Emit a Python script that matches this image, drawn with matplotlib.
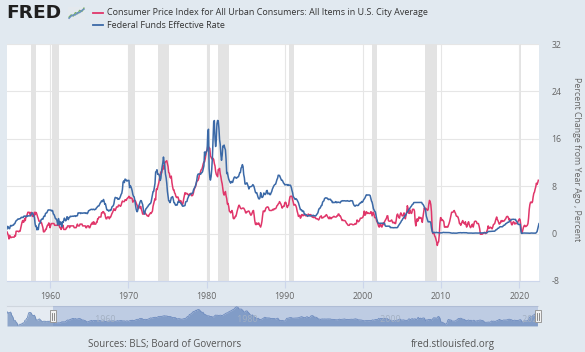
import matplotlib
matplotlib.use('Agg')
import matplotlib.pyplot as plt
import matplotlib.dates as mdates
from matplotlib.lines import Line2D
from matplotlib.patches import Rectangle
import numpy as np
import pandas as pd

# ---------------- data ----------------
cpi_label = 'Consumer Price Index for All Urban Consumers: All Items in U.S. City Average'
ff_label = 'Federal Funds Effective Rate'

cpi_start = '1948-01-01'
cpi_values = [
    10.2, 9.4, 8.2, 9.4, 9.3, 9.4, 9.8, 8.8, 6.5, 6.1, 4.8, 3.0,
    1.3, 1.3, 1.7, 0.4, -0.4, -0.8, -2.9, -2.9, -2.5, -2.9, -1.7, -2.1,
    -2.1, -1.3, -0.8, -1.3, -0.4, -0.4, 1.7, 2.1, 2.2, 3.8, 3.8, 5.9,
    8.1, 9.4, 9.3, 9.4, 9.3, 8.7, 7.4, 6.6, 6.6, 6.2, 6.8, 5.9,
    4.3, 2.3, 2.0, 2.4, 1.9, 2.3, 3.2, 3.1, 2.3, 1.9, 1.2, 0.8,
    0.4, 0.8, 1.1, 0.8, 1.1, 0.8, 0.4, 0.7, 0.7, 1.1, 0.7, 0.7,
    1.1, 0.7, 0.4, 0.7, 0.7, 0.4, 0.3, 0.0, -0.3, -0.9, -0.3, -0.6,
    -0.7, -0.6, -0.6, -0.6, -0.6, -0.6, -0.3, -0.4, 0.4, 0.4, 0.4, 0.4,
    0.3, 0.4, 0.4, 0.9, 1.3, 1.9, 2.2, 1.9, 2.0, 2.5, 2.2, 2.9,
    2.9, 3.3, 3.6, 3.6, 3.6, 3.3, 3.2, 3.6, 3.2, 2.9, 3.2, 2.9,
    3.6, 3.2, 3.6, 3.5, 3.2, 2.8, 2.5, 2.1, 2.1, 2.1, 1.8, 1.8,
    1.4, 1.0, 0.3, 0.3, 0.4, 0.7, 0.7, 1.1, 1.4, 1.4, 1.8, 1.7,
    1.0, 1.4, 1.7, 1.7, 1.7, 1.7, 1.7, 1.4, 1.4, 1.4, 1.4, 1.4,
    1.7, 1.4, 1.4, 1.0, 1.0, 0.7, 1.4, 1.0, 1.4, 0.7, 0.7, 0.7,
    0.7, 1.0, 1.0, 1.3, 1.3, 1.3, 1.0, 1.3, 1.3, 1.3, 1.3, 1.3,
    1.3, 1.0, 1.0, 1.0, 1.0, 1.3, 1.6, 1.3, 1.3, 1.3, 1.6, 1.6,
    1.6, 1.6, 1.3, 1.3, 1.3, 1.3, 1.3, 1.0, 1.0, 1.3, 1.3, 1.3,
    1.0, 1.0, 1.3, 1.6, 1.6, 1.9, 1.6, 2.0, 1.6, 1.6, 1.6, 1.9,
    1.9, 2.5, 2.5, 2.8, 2.8, 2.8, 2.8, 3.5, 3.5, 3.7, 3.7, 3.4,
    3.4, 2.8, 2.5, 2.5, 2.8, 2.8, 2.8, 2.5, 2.8, 2.8, 3.1, 3.4,
    3.6, 3.9, 4.2, 4.0, 3.9, 4.2, 4.5, 4.5, 4.5, 4.8, 4.8, 4.7,
    4.6, 4.8, 5.2, 5.5, 5.4, 5.4, 5.4, 5.7, 5.7, 5.6, 5.9, 6.0,
    6.1, 6.3, 6.0, 6.1, 6.0, 6.0, 5.9, 5.3, 5.6, 5.6, 5.6, 5.5,
    5.2, 4.9, 4.7, 4.2, 4.4, 4.6, 4.3, 4.6, 4.1, 3.8, 3.3, 3.3,
    3.3, 3.5, 3.5, 3.3, 3.2, 3.0, 3.0, 2.9, 3.2, 3.3, 3.5, 3.4,
    3.6, 3.8, 4.6, 5.1, 5.5, 5.9, 5.7, 7.5, 7.4, 7.8, 8.3, 8.7,
    9.4, 10.0, 10.4, 10.2, 10.7, 10.9, 11.5, 10.9, 11.9, 12.1, 12.2, 12.3,
    11.8, 11.3, 10.3, 10.2, 9.5, 9.4, 9.7, 8.6, 7.9, 7.4, 7.4, 6.9,
    6.7, 6.3, 6.1, 6.1, 6.2, 5.9, 5.3, 5.6, 5.5, 5.5, 5.0, 4.8,
    5.2, 5.9, 6.4, 6.9, 6.7, 6.8, 6.8, 6.6, 6.6, 6.4, 6.7, 6.7,
    6.8, 6.4, 6.4, 6.5, 6.9, 7.4, 7.7, 7.9, 8.3, 8.8, 8.9, 9.0,
    9.3, 9.9, 10.1, 10.5, 10.8, 10.9, 11.3, 11.8, 12.1, 12.1, 12.6, 13.3,
    13.9, 14.2, 14.8, 14.7, 14.4, 14.4, 13.1, 12.9, 12.6, 12.7, 12.7, 12.5,
    11.8, 11.4, 10.5, 10.0, 9.8, 9.6, 10.8, 10.8, 11.0, 10.1, 9.6, 8.9,
    8.4, 7.6, 6.8, 6.5, 6.7, 7.1, 6.4, 5.9, 5.0, 5.1, 4.6, 3.8,
    3.7, 3.5, 3.6, 3.9, 3.5, 2.6, 2.5, 2.6, 2.9, 2.9, 3.3, 3.8,
    4.2, 4.6, 4.8, 4.6, 4.3, 4.2, 4.2, 4.3, 4.3, 4.3, 4.1, 3.9,
    3.5, 3.5, 3.7, 3.7, 3.8, 3.8, 3.6, 3.3, 3.1, 3.2, 3.5, 3.8,
    3.9, 3.1, 2.2, 1.6, 1.5, 1.8, 1.6, 1.6, 1.8, 1.5, 1.3, 1.1,
    1.5, 2.1, 3.0, 3.8, 3.8, 3.7, 3.9, 4.3, 4.4, 4.5, 4.5, 4.4,
    4.0, 3.9, 3.9, 3.9, 3.9, 4.0, 4.1, 4.0, 4.2, 4.2, 4.2, 4.4,
    4.7, 4.8, 5.0, 5.1, 5.4, 5.2, 5.0, 4.7, 4.3, 4.5, 4.6, 4.6,
    5.2, 5.3, 5.2, 4.7, 4.4, 4.7, 4.8, 5.6, 6.2, 6.3, 6.3, 6.3,
    5.7, 5.3, 4.8, 4.9, 4.9, 4.7, 4.4, 3.8, 3.4, 2.9, 3.0, 3.1,
    2.6, 2.8, 3.2, 3.2, 3.0, 3.1, 3.2, 3.1, 3.0, 3.2, 3.0, 2.9,
    3.3, 3.2, 3.1, 3.2, 3.2, 3.0, 2.8, 2.8, 2.7, 2.8, 2.7, 2.7,
    2.5, 2.5, 2.5, 2.4, 2.3, 2.5, 2.8, 2.9, 3.0, 2.6, 2.7, 2.7,
    2.8, 2.9, 2.9, 3.1, 3.2, 3.0, 2.8, 2.6, 2.5, 2.8, 2.6, 2.5,
    2.7, 2.7, 2.8, 2.9, 2.9, 2.8, 2.8, 2.8, 3.0, 3.0, 3.3, 3.3,
    3.0, 3.0, 2.8, 2.5, 2.2, 2.3, 2.2, 2.2, 2.2, 2.1, 1.9, 1.7,
    1.6, 1.4, 1.4, 1.4, 1.6, 1.6, 1.6, 1.6, 1.5, 1.5, 1.5, 1.6,
    1.7, 1.6, 1.7, 2.3, 2.1, 2.0, 2.1, 2.3, 2.6, 2.6, 2.6, 2.7,
    2.8, 3.2, 3.8, 3.1, 3.2, 3.7, 3.6, 3.4, 3.5, 3.4, 3.4, 3.4,
    3.7, 3.6, 3.0, 3.3, 3.6, 3.2, 2.7, 2.7, 2.6, 2.1, 1.9, 1.6,
    1.2, 1.1, 1.5, 1.6, 1.2, 1.1, 1.5, 1.8, 1.5, 2.0, 2.2, 2.4,
    2.6, 3.0, 3.0, 2.2, 2.1, 2.1, 2.1, 2.2, 2.3, 2.0, 1.8, 1.9,
    1.9, 1.7, 1.7, 2.3, 3.1, 3.3, 3.0, 2.7, 2.6, 3.2, 3.5, 3.3,
    3.0, 3.0, 3.1, 3.5, 2.8, 2.5, 3.1, 3.6, 4.7, 4.3, 3.5, 3.4,
    4.0, 3.6, 3.4, 3.5, 4.1, 4.1, 4.1, 3.8, 2.1, 1.3, 2.0, 2.5,
    2.1, 2.4, 2.8, 2.6, 2.7, 2.7, 2.4, 1.9, 2.8, 3.5, 4.3, 4.1,
    4.3, 4.1, 4.1, 3.9, 4.1, 5.0, 5.6, 5.4, 4.9, 3.7, 1.1, 0.0,
    0.0, 0.0, -0.4, -0.6, -1.0, -1.4, -2.0, -1.5, -1.4, -0.2, 1.8, 2.7,
    2.6, 2.2, 2.3, 2.2, 2.0, 1.1, 1.2, 1.1, 1.1, 1.2, 1.1, 1.4,
    1.7, 2.1, 2.6, 3.2, 3.6, 3.6, 3.6, 3.8, 3.9, 3.6, 3.4, 3.0,
    2.9, 2.9, 2.7, 2.3, 1.7, 1.7, 1.4, 1.7, 2.0, 2.2, 1.8, 1.8,
    1.6, 2.0, 1.5, 1.1, 1.4, 1.8, 2.0, 1.5, 1.2, 1.0, 1.2, 1.5,
    1.6, 1.1, 1.5, 2.0, 2.1, 2.1, 2.0, 1.7, 1.7, 1.7, 1.3, 0.8,
    -0.1, 0.0, -0.1, -0.1, 0.0, 0.1, 0.2, 0.2, 0.0, 0.1, 0.4, 0.7,
    1.3, 0.9, 0.9, 1.1, 1.0, 1.0, 0.8, 1.1, 1.5, 1.6, 1.7, 2.1,
    2.5, 2.8, 2.4, 2.2, 1.9, 1.6, 1.7, 1.9, 2.2, 2.0, 2.2, 2.1,
    2.1, 2.2, 2.4, 2.5, 2.8, 2.9, 2.9, 2.7, 2.3, 2.5, 2.2, 1.9,
    1.5, 1.5, 1.9, 2.0, 1.8, 1.6, 1.8, 1.7, 1.7, 1.8, 2.1, 2.3,
    2.5, 2.3, 1.5, 0.3, 0.1, 0.6, 1.0, 1.3, 1.4, 1.2, 1.2, 1.3,
    1.4, 1.7, 2.6, 4.1, 4.9, 5.3, 5.3, 5.2, 5.4, 6.2, 6.8, 7.0,
    7.5, 7.9, 8.5, 8.3, 8.6, 9.0,
]

ff_start = '1954-07-01'
ff_values = [
    0.80, 1.22, 1.07, 0.85, 0.83, 1.28,
    1.39, 1.29, 1.35, 1.43, 1.43, 1.64, 1.68, 1.96, 2.18, 2.24, 2.35, 2.48,
    2.45, 2.50, 2.50, 2.62, 2.75, 2.71, 2.75, 2.73, 2.95, 2.96, 2.88, 2.94,
    2.84, 3.00, 2.96, 3.00, 3.00, 3.00, 2.99, 3.24, 3.47, 3.50, 3.28, 2.98,
    2.72, 1.67, 1.20, 1.26, 0.63, 0.93, 0.68, 1.53, 1.76, 1.80, 2.27, 2.42,
    2.48, 2.43, 2.80, 2.96, 2.90, 3.39, 3.47, 3.50, 3.76, 3.98, 4.00, 3.99,
    3.99, 3.97, 3.84, 3.92, 3.85, 3.32, 3.23, 2.98, 2.60, 2.47, 2.44, 1.98,
    1.45, 2.54, 2.02, 1.49, 1.98, 1.73, 1.17, 2.00, 1.88, 2.26, 2.61, 2.33,
    2.15, 2.37, 2.85, 2.78, 2.36, 2.68, 2.71, 2.93, 2.90, 2.90, 2.94, 2.93,
    2.92, 3.00, 2.98, 2.90, 3.00, 2.99, 3.02, 3.49, 3.48, 3.50, 3.48, 3.38,
    3.48, 3.48, 3.43, 3.47, 3.50, 3.50, 3.42, 3.50, 3.45, 3.36, 3.52, 3.85,
    3.90, 3.98, 4.04, 4.09, 4.10, 4.04, 4.09, 4.12, 4.01, 4.08, 4.10, 4.32,
    4.42, 4.60, 4.65, 4.67, 4.90, 5.17, 5.30, 5.53, 5.40, 5.53, 5.76, 5.40,
    4.94, 5.00, 4.53, 4.05, 3.94, 3.98, 3.79, 3.90, 3.99, 3.88, 4.13, 4.51,
    4.60, 4.71, 5.05, 5.76, 6.11, 6.07, 6.02, 6.03, 5.78, 5.91, 5.82, 6.02,
    6.30, 6.64, 6.79, 7.41, 8.67, 8.90, 8.61, 9.19, 9.15, 9.00, 8.85, 8.97,
    8.98, 8.98, 7.76, 8.10, 7.95, 7.61, 7.21, 6.61, 6.29, 6.20, 5.60, 4.90,
    4.14, 3.72, 3.71, 4.16, 4.63, 4.91, 5.31, 5.57, 5.55, 5.20, 4.91, 4.14,
    3.50, 3.29, 3.83, 4.17, 4.27, 4.46, 4.55, 4.80, 4.87, 5.04, 5.06, 5.33,
    5.94, 6.58, 7.09, 7.12, 7.84, 8.49, 10.40, 10.50, 10.78, 10.01, 10.03, 9.95,
    9.65, 8.97, 9.35, 10.51, 11.31, 11.93, 12.92, 12.01, 11.34, 10.06, 9.45, 8.53,
    7.13, 6.24, 5.54, 5.49, 5.22, 5.55, 6.10, 6.14, 6.24, 5.82, 5.22, 5.20,
    4.87, 4.77, 4.84, 4.82, 5.29, 5.48, 5.31, 5.29, 5.25, 5.02, 4.95, 4.65,
    4.61, 4.68, 4.69, 4.73, 5.35, 5.39, 5.42, 5.90, 6.14, 6.47, 6.51, 6.56,
    6.70, 6.78, 6.79, 6.89, 7.36, 7.60, 7.81, 8.04, 8.45, 8.96, 9.76, 10.03,
    10.07, 10.06, 10.09, 10.01, 10.24, 10.29, 10.47, 10.94, 11.43, 13.77, 13.18, 13.78,
    13.82, 14.13, 17.19, 17.61, 10.98, 9.47, 9.03, 9.61, 10.87, 12.81, 15.85, 18.90,
    19.08, 15.93, 14.70, 15.72, 18.52, 19.10, 19.04, 17.82, 15.87, 15.08, 13.31, 12.37,
    13.22, 14.78, 14.68, 14.94, 14.45, 14.15, 12.59, 10.12, 10.31, 9.71, 9.20, 8.95,
    8.68, 8.51, 8.77, 8.80, 8.63, 8.98, 9.37, 9.56, 9.45, 9.48, 9.34, 9.47,
    9.56, 9.59, 9.91, 10.29, 10.32, 11.06, 11.23, 11.64, 11.30, 9.99, 9.43, 8.38,
    8.35, 8.50, 8.58, 8.27, 7.97, 7.53, 7.88, 7.90, 7.92, 7.99, 8.05, 8.27,
    8.14, 7.86, 7.48, 6.99, 6.85, 6.92, 6.56, 6.17, 5.89, 5.85, 6.04, 6.91,
    6.43, 6.10, 6.13, 6.37, 6.85, 6.73, 6.58, 6.73, 7.22, 7.29, 6.69, 6.77,
    6.83, 6.58, 6.58, 6.87, 7.09, 7.51, 7.75, 8.01, 8.19, 8.30, 8.35, 8.76,
    9.12, 9.36, 9.85, 9.84, 9.81, 9.53, 9.24, 8.99, 9.02, 8.84, 8.55, 8.45,
    8.23, 8.24, 8.28, 8.26, 8.18, 8.29, 8.15, 8.13, 8.20, 8.11, 7.81, 7.31,
    6.91, 6.25, 6.12, 5.91, 5.78, 5.90, 5.82, 5.66, 5.45, 5.21, 4.81, 4.43,
    4.03, 4.06, 3.98, 3.73, 3.82, 3.76, 3.25, 3.30, 3.22, 3.10, 3.09, 2.92,
    3.02, 3.03, 3.07, 2.96, 3.00, 3.04, 3.06, 3.03, 3.09, 2.99, 3.02, 2.96,
    3.05, 3.25, 3.34, 3.56, 4.01, 4.25, 4.26, 4.47, 4.73, 4.76, 5.29, 5.45,
    5.53, 5.92, 5.98, 6.05, 6.01, 6.00, 5.85, 5.74, 5.80, 5.76, 5.80, 5.60,
    5.56, 5.22, 5.31, 5.22, 5.24, 5.27, 5.40, 5.22, 5.30, 5.24, 5.31, 5.29,
    5.25, 5.19, 5.39, 5.51, 5.50, 5.56, 5.52, 5.54, 5.54, 5.50, 5.52, 5.50,
    5.56, 5.51, 5.49, 5.45, 5.49, 5.56, 5.54, 5.55, 5.51, 5.07, 4.83, 4.68,
    4.63, 4.76, 4.81, 4.74, 4.74, 4.76, 4.99, 5.07, 5.22, 5.20, 5.42, 5.30,
    5.45, 5.73, 5.85, 6.02, 6.27, 6.53, 6.54, 6.50, 6.52, 6.51, 6.51, 6.40,
    5.98, 5.49, 5.31, 4.80, 4.21, 3.97, 3.77, 3.65, 3.07, 2.49, 2.09, 1.82,
    1.73, 1.74, 1.73, 1.75, 1.75, 1.75, 1.73, 1.74, 1.75, 1.75, 1.34, 1.24,
    1.24, 1.26, 1.25, 1.26, 1.26, 1.22, 1.01, 1.03, 1.01, 1.01, 1.00, 0.98,
    1.00, 1.01, 1.00, 1.00, 1.00, 1.03, 1.26, 1.43, 1.61, 1.76, 1.93, 2.16,
    2.28, 2.50, 2.63, 2.79, 3.00, 3.04, 3.26, 3.50, 3.62, 3.78, 4.00, 4.16,
    4.29, 4.49, 4.59, 4.79, 4.94, 4.99, 5.24, 5.25, 5.25, 5.25, 5.25, 5.24,
    5.25, 5.26, 5.26, 5.25, 5.25, 5.25, 5.26, 5.02, 4.94, 4.76, 4.49, 4.24,
    3.94, 2.98, 2.61, 2.28, 1.98, 2.00, 2.01, 2.00, 1.81, 0.97, 0.39, 0.16,
    0.15, 0.22, 0.18, 0.15, 0.18, 0.21, 0.16, 0.16, 0.15, 0.12, 0.12, 0.12,
    0.11, 0.13, 0.16, 0.20, 0.20, 0.18, 0.18, 0.19, 0.19, 0.19, 0.19, 0.18,
    0.17, 0.16, 0.14, 0.10, 0.09, 0.09, 0.07, 0.10, 0.08, 0.07, 0.08, 0.07,
    0.08, 0.10, 0.13, 0.14, 0.16, 0.16, 0.16, 0.13, 0.14, 0.16, 0.16, 0.16,
    0.14, 0.15, 0.14, 0.15, 0.11, 0.09, 0.09, 0.08, 0.08, 0.09, 0.08, 0.09,
    0.07, 0.07, 0.08, 0.09, 0.09, 0.10, 0.09, 0.09, 0.09, 0.09, 0.09, 0.12,
    0.11, 0.11, 0.11, 0.12, 0.12, 0.13, 0.13, 0.14, 0.14, 0.12, 0.12, 0.24,
    0.34, 0.38, 0.36, 0.37, 0.37, 0.38, 0.39, 0.40, 0.40, 0.40, 0.41, 0.54,
    0.65, 0.66, 0.79, 0.90, 0.91, 1.04, 1.15, 1.16, 1.15, 1.15, 1.16, 1.30,
    1.41, 1.42, 1.51, 1.69, 1.70, 1.82, 1.91, 1.91, 1.95, 2.19, 2.20, 2.27,
    2.40, 2.40, 2.41, 2.42, 2.39, 2.38, 2.40, 2.13, 2.04, 1.83, 1.55, 1.55,
    1.55, 1.58, 0.65, 0.05, 0.05, 0.08, 0.09, 0.10, 0.09, 0.09, 0.09, 0.09,
    0.09, 0.08, 0.07, 0.07, 0.06, 0.08, 0.10, 0.09, 0.08, 0.08, 0.08, 0.08,
    0.08, 0.08, 0.20, 0.33, 0.77, 1.21, 1.68,
]

recession_starts = ['1957-08-01', '1960-04-01', '1969-12-01', '1973-11-01', '1980-01-01',
                    '1981-07-01', '1990-07-01', '2001-03-01', '2007-12-01', '2020-02-01']
recession_ends = ['1958-04-01', '1961-02-01', '1970-11-01', '1975-03-01', '1980-07-01',
                  '1982-11-01', '1991-03-01', '2001-11-01', '2009-06-01', '2020-04-01']

y_ticks = [-8, 0, 8, 16, 24, 32]
x_tick_years = [1960, 1970, 1980, 1990, 2000, 2010, 2020]
nav_label_years = [1960, 1980, 2000, 2020]
view_start = '1954-07-01'
view_end = '2022-07-01'

icon_green = [1, 3, 2, 5, 4, 7, 6, 9]
icon_blue = [0, 2, 3, 3, 5, 5, 7, 8]

# ---------------- styling ----------------
BG = '#e1e9f0'
RED = '#e0366a'
BLUE = '#3b69a7'
TXT = '#555555'
W, H = 585, 352

plt.rcParams['font.family'] = ['Open Sans', 'DejaVu Sans']

cpi_dates = pd.date_range(cpi_start, periods=len(cpi_values), freq='MS')
ff_dates = pd.date_range(ff_start, periods=len(ff_values), freq='MS')
v0 = pd.Timestamp(view_start)
v1 = pd.Timestamp(view_end)

fig = plt.figure(figsize=(W / 100, H / 100), dpi=100, facecolor=BG)

def fx(px):
    return px / W

def fy(py):
    return 1 - py / H

# main axes
ax = fig.add_axes([fx(7), fy(281), fx(532), (281 - 44) / H])
ax.set_facecolor('white')
for s, e in zip(recession_starts, recession_ends):
    ax.axvspan(pd.Timestamp(s), pd.Timestamp(e), color='#e3e3e3', lw=0, zorder=1)

ax.plot(cpi_dates, cpi_values, color=RED, lw=1.1, zorder=3)
ax.plot(ff_dates, ff_values, color=BLUE, lw=1.1, zorder=4)

ax.set_xlim(v0, v1)
ax.set_ylim(-8, 32)
ax.set_yticks(y_ticks)
ax.set_yticklabels([str(t) for t in y_ticks])
ax.yaxis.tick_right()
xt = [pd.Timestamp(f'{y}-01-01') for y in x_tick_years]
ax.set_xticks(xt)
ax.set_xticklabels([str(y) for y in x_tick_years])
ax.grid(True, color='#e6e6e6', lw=0.8, zorder=0)
ax.set_axisbelow(True)
for sp in ['top', 'left', 'right']:
    ax.spines[sp].set_visible(False)
ax.spines['bottom'].set_color('#ccd6eb')
ax.spines['bottom'].set_linewidth(0.8)
ax.tick_params(axis='y', length=0, labelsize=6.3, labelcolor='#666666', pad=9)
ax.tick_params(axis='x', length=5, width=0.8, color='#ccd6eb', labelsize=6.3,
               labelcolor='#666666', pad=3)
for lab in ax.get_yticklabels():
    lab.set_horizontalalignment('left')

fig.text(fx(577), fy(159), 'Percent Change from Year Ago , Percent', rotation=270,
         ha='center', va='center', fontsize=6.3, color='#666666')

# logo
fig.text(fx(6), fy(13), 'FRED', fontsize=13.3, fontweight='heavy', color='#1f1f1f',
         family='DejaVu Sans', va='center', ha='left')
iax = fig.add_axes([fx(68), fy(20), fx(17), 13 / H])
iax.set_facecolor('#e4e9ee')
iax.plot(range(len(icon_green)), icon_green, color='#79b366', lw=1.0)
iax.plot(range(len(icon_blue)), icon_blue, color='#6a8fc2', lw=1.0)
iax.set_xlim(-0.5, len(icon_green) - 0.5)
iax.set_ylim(-1.5, 10)
iax.set_xticks([]); iax.set_yticks([])
for sp in iax.spines.values():
    sp.set_visible(False)

# legend
for yy, col, lab in [(12.5, RED, cpi_label), (25, BLUE, ff_label)]:
    fig.add_artist(Line2D([fx(93), fx(103)], [fy(yy), fy(yy)], color=col, lw=1.3,
                          transform=fig.transFigure))
    fig.text(fx(107), fy(yy), lab, fontsize=6.5, color='#333333', va='center', ha='left')

# navigator
nav = fig.add_axes([fx(7), fy(326), fx(531), 20 / H])
nav.set_facecolor('#e5ebf2')
nav.fill_between(cpi_dates, -3.6, cpi_values, color='#8ea6ca', lw=0, zorder=2)
nav.plot(cpi_dates, cpi_values, color='#6f8dbd', lw=0.6, zorder=3)
nav.set_xlim(cpi_dates[0], pd.Timestamp('2022-07-01'))
nav.set_ylim(-3.6, 15.6)
nav.axvspan(v0, v1, color=(102 / 255, 133 / 255, 194 / 255, 0.3), lw=0, zorder=4)
nav.set_xticks([]); nav.set_yticks([])
for sp in nav.spines.values():
    sp.set_visible(False)
nav.spines['top'].set_visible(True)
nav.spines['top'].set_color('#cfd6de')
for yv in nav_label_years:
    nav.text(pd.Timestamp(f'{yv}-01-01'), 0.3, f' {yv}', transform=nav.get_xaxis_transform(),
             fontsize=6.3, color='#a3b0c2', ha='left', va='center', zorder=5)

x0n = mdates.date2num(cpi_dates[0])
x1n = mdates.date2num(pd.Timestamp('2022-07-01'))
for d in [v0, v1]:
    frac = (mdates.date2num(d) - x0n) / (x1n - x0n)
    cx = 7 + frac * 531
    fig.add_artist(Rectangle((fx(cx - 3), fy(322)), fx(6), 12 / H, transform=fig.transFigure,
                             facecolor='#f2f2f2', edgecolor='#999999', lw=0.7, zorder=10))
    for dx in (-1, 1):
        fig.add_artist(Line2D([fx(cx + dx), fx(cx + dx)], [fy(319.5), fy(312.5)],
                              transform=fig.transFigure, color='#777777', lw=0.6, zorder=11))

# footer
fig.text(fx(165), fy(344), 'Sources: BLS; Board of Governors', fontsize=7, color=TXT,
         ha='center', va='center')
fig.text(fx(453), fy(344), 'fred.stlouisfed.org', fontsize=7, color=TXT,
         ha='center', va='center')

fig.savefig('out.png', dpi=100, facecolor=BG)
